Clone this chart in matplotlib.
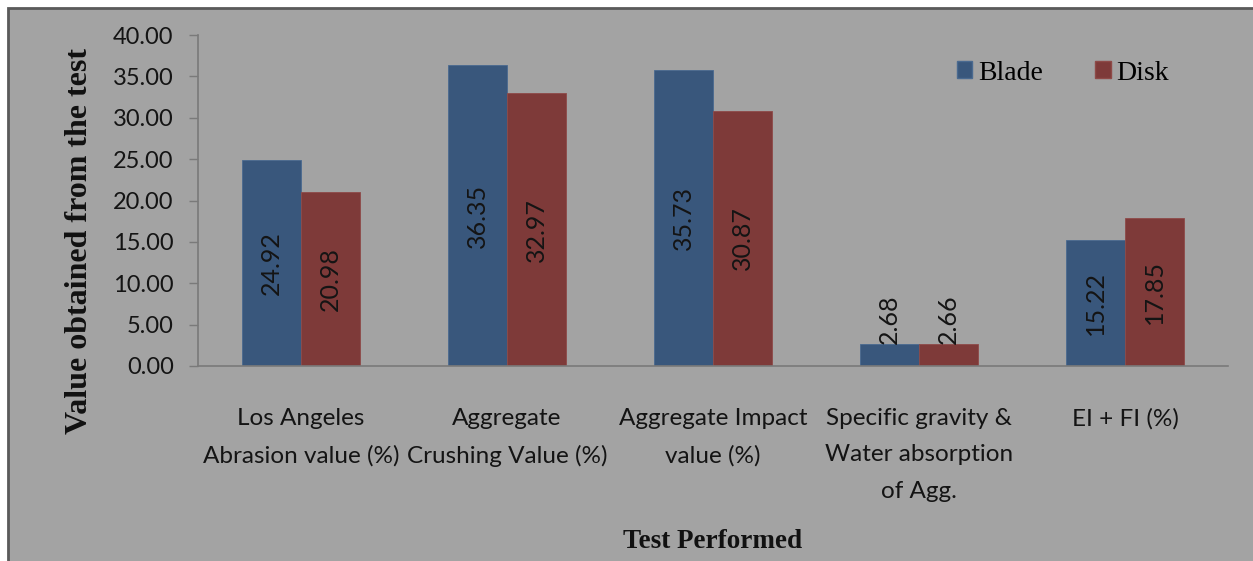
import numpy as np
import matplotlib.pyplot as plt
from matplotlib.patches import Rectangle, Patch

# ==============================
# Datos
# ==============================
categories = [
    "Los Angeles\nAbrasion value (%)",
    "Aggregate\nCrushing Value (%)",
    "Aggregate Impact\nvalue (%)",
    "Specific gravity &\nWater absorption\nof Agg.",
    "EI + FI (%)",
]
blade = [24.92, 36.35, 35.73, 2.68, 15.22]
disk = [20.98, 32.97, 30.87, 2.66, 17.85]
series_names = ["Blade", "Disk"]
yticks = [0, 5, 10, 15, 20, 25, 30, 35, 40]

# ==============================
# Estilo
# ==============================
BG = "#a3a3a3"
C_BLADE = "#39577c"
C_DISK = "#7e3a39"
SANS = "Lato"
SERIF = "Liberation Serif"

fig = plt.figure(figsize=(12.53, 5.61), dpi=100, facecolor="white")

# fondo gris con borde
fig.patches.append(Rectangle((8 / 1253, -0.1), 1.1, 1.1 - 8 / 561,
                             transform=fig.transFigure, facecolor=BG,
                             edgecolor="#5a5a5a", linewidth=2, zorder=-10))

ax = fig.add_axes([198 / 1253, 1 - 366 / 561, (1228 - 198) / 1253, (366 - 35) / 561])
ax.set_facecolor("none")

x = np.arange(len(categories))
w = 0.285
b1 = ax.bar(x - w / 2, blade, w, color=C_BLADE, edgecolor="#4a6a90", linewidth=0.6)
b2 = ax.bar(x + w / 2, disk, w, color=C_DISK, edgecolor="#8e4a48", linewidth=0.6)

# etiquetas de valor dentro de las barras
for bars, vals in ((b1, blade), (b2, disk)):
    for rect, v in zip(bars, vals):
        cx = rect.get_x() + rect.get_width() / 2
        if v > 8:
            ax.text(cx, v / 2, f"{v:.2f}", rotation=90, ha="center", va="center",
                    fontsize=18, family=SANS, color="#141414")
        else:
            ax.text(cx, v, f"{v:.2f}", rotation=90, ha="center", va="bottom",
                    fontsize=18, family=SANS, color="#141414")

ax.set_xlim(-0.5, len(categories) - 0.5)
ax.set_ylim(0, 40)
ax.set_yticks(yticks)
ax.set_yticklabels([f"{t:.2f}" for t in yticks], family=SANS, fontsize=17, color="#141414")
ax.set_xticks(x)
ax.set_xticklabels(categories, family=SANS, fontsize=17.5, color="#141414",
                   linespacing=1.92)

for s in ("top", "right"):
    ax.spines[s].set_visible(False)
for s in ("left", "bottom"):
    ax.spines[s].set_color("#7a7a7a")
    ax.spines[s].set_linewidth(1.2)
ax.tick_params(axis="y", direction="out", length=6.5, width=1, color="#7a7a7a", pad=11)
ax.tick_params(axis="x", length=0, pad=30)

# titulos de ejes
fig.text(713 / 1253, 1 - 541 / 561, "Test Performed", ha="center", va="center",
         family=SERIF, fontweight="bold", fontsize=19.5, color="#111111")
fig.text(80 / 1253, 1 - 241 / 561, "Value obtained from the test", ha="center",
         va="center", rotation=90, family=SERIF, fontweight="bold", fontsize=23,
         color="#111111")

# leyenda
handles = [Patch(facecolor=C_BLADE, edgecolor="#4a6a90"),
           Patch(facecolor=C_DISK, edgecolor="#8e4a48")]
leg = fig.legend(handles, series_names, loc="center left",
                 bbox_to_anchor=(957 / 1253, 1 - 73 / 561), ncol=2, frameon=False,
                 prop={"family": SERIF, "size": 20}, handlelength=0.55,
                 handleheight=0.55, handletextpad=0.2, columnspacing=1.9,
                 borderpad=0, borderaxespad=0)

fig.savefig("out.png", dpi=100, facecolor=fig.get_facecolor())
